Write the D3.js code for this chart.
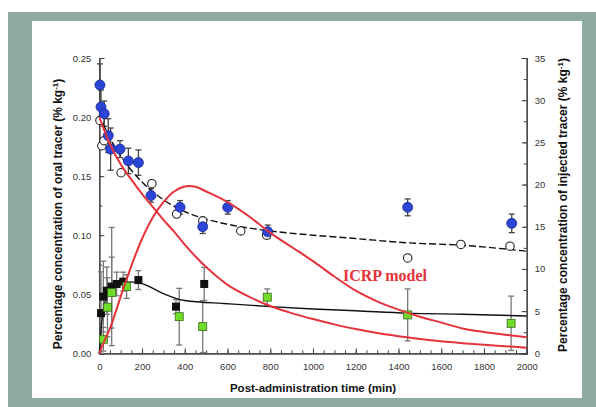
<!DOCTYPE html>
<html><head><meta charset="utf-8">
<script src="https://cdn.jsdelivr.net/npm/d3@7"></script>
<style>body{margin:0;background:#fff}svg{display:block}</style>
</head><body>
<script>
// ---- data ----
const xTicks = [0,200,400,600,800,1000,1200,1400,1600,1800,2000];
const leftTicks = [0,0.05,0.10,0.15,0.20,0.25];
const rightTicks = [0,5,10,15,20,25,30,35];

// injected tracer (right axis, % kg-1)
const blueX = [3,8,23,42,53,97,136,183,242,378,484,601,788,1443,1930];
const blueY = [31.8,29.2,28.4,25.8,24.2,24.2,22.8,22.6,18.7,17.3,15.0,17.3,14.4,17.3,15.4];
const blueErr = [2.5,2.0,1.5,2.0,2.5,1.0,1.5,1.5,0.8,0.8,0.8,0.8,0.8,1.0,1.1];
const openX = [3,12,22,102,246,362,484,662,783,1443,1692,1922];
const openY = [27.6,24.6,25.2,21.4,20.1,16.5,15.7,14.5,14.0,11.3,12.9,12.7];
const dashX = [0,25,50,100,150,200,300,400,500,600,800,1000,1200,1440,1700,2000];
const dashY = [28.3,26.8,25.5,23.4,21.7,20.3,18.2,16.8,15.9,15.3,14.5,14.0,13.6,13.1,12.8,12.1];

// oral tracer (left axis, % kg-1)
const blackX = [8,19,35,58,81,112,183,359,491];
const blackY = [0.034,0.048,0.053,0.0565,0.0587,0.0607,0.062,0.0395,0.0587];
const blackErr = [0.035,0.03,0.02,0.05,0.01,0.008,0.008,0.006,0.014];
const greenX = [19,38,58,128,374,484,786,1443,1927];
const greenY = [0.0119,0.039,0.0514,0.0565,0.031,0.0226,0.0475,0.0325,0.0254];
const greenErr = [0.01,0.025,0.03,0.01,0.024,0.022,0.007,0.022,0.023];
const solidX = [0,5,10,20,35,50,75,100,150,200,300,400,600,800,1000,1200,1440,1700,2000];
const solidY = [0,0.012,0.024,0.038,0.048,0.053,0.057,0.059,0.0605,0.059,0.0505,0.0447,0.042,0.0395,0.0375,0.036,0.034,0.033,0.0316];

// ICRP model curves (left axis units)
const icrp1X = [0,25,50,100,150,200,250,300,350,400,450,500,600,700,800,900,1000,1100,1200,1300,1400,1500,1600,1700,1800,1900,2000];
const icrp1Y = [0,0.011,0.021,0.048,0.074,0.097,0.115,0.128,0.137,0.1412,0.141,0.137,0.128,0.116,0.102,0.09,0.078,0.065,0.053,0.044,0.037,0.031,0.026,0.021,0.018,0.0157,0.0136];
const icrp2X = [0,25,50,100,150,200,250,300,350,400,450,500,550,600,700,800,900,1000,1100,1200,1300,1400,1500,1600,1700,1800,1900,2000];
const icrp2Y = [0.2,0.188,0.177,0.16,0.147,0.135,0.124,0.113,0.103,0.092,0.082,0.073,0.065,0.058,0.048,0.040,0.034,0.029,0.0245,0.0205,0.0172,0.0145,0.0122,0.0102,0.0086,0.0072,0.006,0.0048];

const W = 596, H = 407;
const svg = d3.select("body").append("svg").attr("width", W).attr("height", H);

// frame
svg.append("rect").attr("x",8).attr("y",12).attr("width",W-8).attr("height",H-12).attr("fill","#8eaaa3");
svg.append("rect").attr("x",32).attr("y",21).attr("width",550).attr("height",377).attr("fill","#ffffff");

const x = d3.scaleLinear().domain([0,2000]).range([99.3,526.7]);
const yL = d3.scaleLinear().domain([0,0.25]).range([353.3,58]);
const yR = d3.scaleLinear().domain([0,35]).range([353.3,58]);

const axisCol = "#444";
const g = svg.append("g");

function styleAxis(sel){
  sel.selectAll(".domain").attr("stroke",axisCol).attr("stroke-width",1.2);
  sel.selectAll(".tick line").attr("stroke",axisCol);
  sel.selectAll(".tick text").attr("fill","#333").style("font-family","Liberation Sans, Arial, sans-serif").style("font-size","9.5px");
}
const bx = g.append("g").attr("transform","translate(0,353.3)")
  .call(d3.axisBottom(x).tickValues(d3.range(0,2001,50)).tickSize(-3).tickFormat(""));
styleAxis(bx);
const bx2 = g.append("g").attr("transform","translate(0,353.3)")
  .call(d3.axisBottom(x).tickValues(xTicks).tickSize(-5).tickPadding(10).tickFormat(d3.format("d")));
styleAxis(bx2);
const ly = g.append("g").attr("transform","translate(99.3,0)")
  .call(d3.axisLeft(yL).tickValues(d3.range(0,0.2501,0.025)).tickSize(-3).tickFormat(""));
styleAxis(ly);
const ly2 = g.append("g").attr("transform","translate(99.3,0)")
  .call(d3.axisLeft(yL).tickValues(leftTicks).tickSize(-5).tickPadding(8).tickFormat(d3.format(".2f")));
styleAxis(ly2);
const ry = g.append("g").attr("transform","translate(526.7,0)")
  .call(d3.axisRight(yR).tickValues(d3.range(0,35.01,2.5)).tickSize(-3).tickFormat(""));
styleAxis(ry);
const ry2 = g.append("g").attr("transform","translate(526.7,0)")
  .call(d3.axisRight(yR).tickValues(rightTicks).tickSize(-5).tickPadding(8).tickFormat(d3.format("d")));
styleAxis(ry2);

// axis titles
const titleFont = "Liberation Sans, Arial, sans-serif";
function sup(t){ t.append("tspan").attr("baseline-shift","super").style("font-size","8px").text("-1"); t.append("tspan").text(")"); }
svg.append("text").attr("x",313).attr("y",392).attr("text-anchor","middle")
  .style("font-family",titleFont).style("font-weight","bold").style("font-size","11.5px").attr("fill","#111")
  .text("Post-administration time (min)");
const lt = svg.append("text").attr("transform","translate(62,214) rotate(-90)").attr("text-anchor","middle")
  .style("font-family",titleFont).style("font-weight","bold").style("font-size","12px").attr("fill","#111");
lt.append("tspan").text("Percentage concentration of oral tracer (% kg"); sup(lt);
const rt = svg.append("text").attr("transform","translate(567,205) rotate(-90)").attr("text-anchor","middle")
  .style("font-family",titleFont).style("font-weight","bold").style("font-size","12px").attr("fill","#111");
rt.append("tspan").text("Percentage concentration of injected tracer (% kg"); sup(rt);

// fitted lines
const lineR = d3.line().x(d=>x(d[0])).y(d=>yR(d[1])).curve(d3.curveMonotoneX);
const lineL = d3.line().x(d=>x(d[0])).y(d=>yL(d[1])).curve(d3.curveMonotoneX);
const lineLs = d3.line().x(d=>x(d[0])).y(d=>yL(d[1])).curve(d3.curveCatmullRom);

// error bars
function errBars(xs, ys, es, scale, col){
  const eg = svg.append("g").attr("stroke",col).attr("stroke-width",1.3);
  xs.forEach((xv,i)=>{
    const lo = Math.max(0, ys[i]-es[i]), hi = ys[i]+es[i];
    eg.append("line").attr("x1",x(xv)).attr("x2",x(xv)).attr("y1",scale(lo)).attr("y2",scale(hi));
    eg.append("line").attr("x1",x(xv)-3).attr("x2",x(xv)+3).attr("y1",scale(hi)).attr("y2",scale(hi));
    eg.append("line").attr("x1",x(xv)-3).attr("x2",x(xv)+3).attr("y1",scale(lo)).attr("y2",scale(lo));
  });
}
errBars(blackX, blackY, blackErr, yL, "#777");
errBars(greenX, greenY, greenErr, yL, "#777");
errBars(blueX, blueY, blueErr, yR, "#444");

svg.append("path").datum(d3.zip(dashX,dashY)).attr("d",lineR).attr("fill","none")
  .attr("stroke","#111").attr("stroke-width",1.4).attr("stroke-dasharray","7,3");
svg.append("path").datum(d3.zip(solidX,solidY)).attr("d",lineL).attr("fill","none")
  .attr("stroke","#111").attr("stroke-width",1.4);

// points
svg.append("g").selectAll("circle.o").data(d3.zip(openX,openY)).join("circle")
  .attr("cx",d=>x(d[0])).attr("cy",d=>yR(d[1])).attr("r",4.2)
  .attr("fill","#fff").attr("stroke","#222").attr("stroke-width",1.1);
svg.append("g").selectAll("circle.b").data(d3.zip(blueX,blueY)).join("circle")
  .attr("cx",d=>x(d[0])).attr("cy",d=>yR(d[1])).attr("r",5)
  .attr("fill","#2b45d6").attr("stroke","#1a2a90").attr("stroke-width",0.8);
svg.append("g").selectAll("rect.k").data(d3.zip(blackX,blackY)).join("rect")
  .attr("x",d=>x(d[0])-4).attr("y",d=>yL(d[1])-4).attr("width",8).attr("height",8)
  .attr("fill","#111");
svg.append("g").selectAll("rect.gr").data(d3.zip(greenX,greenY)).join("rect")
  .attr("x",d=>x(d[0])-4).attr("y",d=>yL(d[1])-4).attr("width",8).attr("height",8)
  .attr("fill","#6fdc2a").attr("stroke","#3a6a1a").attr("stroke-width",0.8);

// ICRP model curves
const red = "#e5333b";
svg.append("path").datum(d3.zip(icrp1X,icrp1Y)).attr("d",lineLs).attr("fill","none")
  .attr("stroke",red).attr("stroke-width",2);
svg.append("path").datum(d3.zip(icrp2X,icrp2Y)).attr("d",lineLs).attr("fill","none")
  .attr("stroke",red).attr("stroke-width",2);
svg.append("text").attr("x",343).attr("y",281)
  .style("font-family","Liberation Serif, Times New Roman, serif").style("font-weight","bold").style("font-size","16px")
  .attr("fill",red).text("ICRP model");
</script>
</body></html>
